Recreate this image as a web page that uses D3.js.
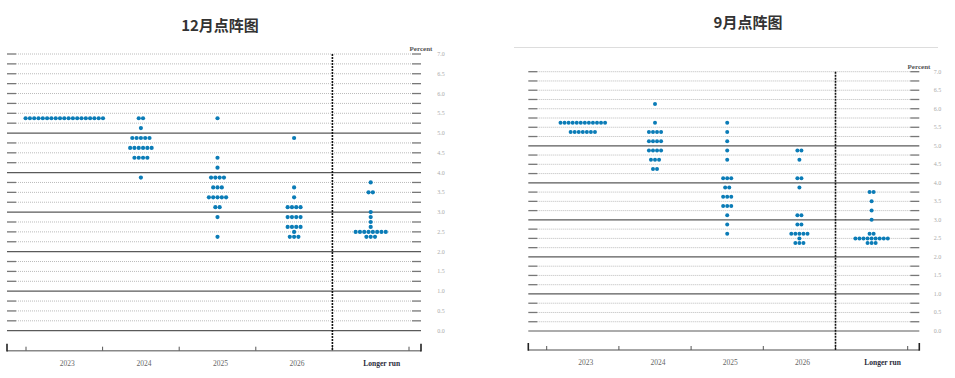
<!DOCTYPE html>
<html>
<head>
<meta charset="utf-8">
<script src="https://cdn.jsdelivr.net/npm/d3@7"></script>
<style>
  body { margin: 0; background: #fff; }
  svg { display: block; }
</style>
</head>
<body>
<div id="chart"></div>
<script>
// 列
const years = ["2023", "2024", "2025", "2026", "Longer run"]
// 刻度
const rateTicks = d3.range(0, 7.01, 0.25)
const labelTicks = ["0.0","0.5","1.0","1.5","2.0","2.5","3.0","3.5","4.0","4.5","5.0","5.5","6.0","6.5","7.0"]
const solidLevels = [0, 1, 2, 3, 4, 5]

// 12月 [利率, 点数]
const dec2023 = [[5.375, 19]]
const dec2024 = [[5.375, 2], [5.125, 1], [4.875, 5], [4.625, 6], [4.375, 4], [3.875, 1]]
const dec2025 = [[5.375, 1], [4.375, 1], [4.125, 1], [3.875, 4], [3.625, 3], [3.375, 5], [3.125, 2], [2.875, 1], [2.375, 1]]
const dec2026 = [[4.875, 1], [3.625, 1], [3.375, 1], [3.125, 4], [2.875, 4], [2.625, 4], [2.5, 1], [2.375, 3]]
const decLong = [[3.75, 1], [3.5, 2], [3.0, 1], [2.875, 1], [2.75, 1], [2.625, 1], [2.5, 8], [2.375, 3]]

// 9月
const sep2023 = [[5.625, 12], [5.375, 7]]
const sep2024 = [[6.125, 1], [5.625, 1], [5.375, 4], [5.125, 4], [4.875, 4], [4.625, 3], [4.375, 2]]
const sep2025 = [[5.625, 1], [5.375, 1], [5.125, 1], [4.875, 1], [4.625, 1], [4.125, 3], [3.875, 2], [3.625, 3], [3.375, 3], [3.125, 1], [2.875, 1], [2.625, 1]]
const sep2026 = [[4.875, 2], [4.625, 1], [4.125, 2], [3.875, 1], [3.125, 2], [2.875, 2], [2.625, 5], [2.5, 1], [2.375, 3]]
const sepLong = [[3.75, 2], [3.5, 1], [3.25, 1], [3.0, 1], [2.625, 2], [2.5, 9], [2.375, 3]]

let svg = d3.select("#chart")
    .append("svg")
    .attr("width", 955)
    .attr("height", 378)

//畫一個面板
function drawPanel(cfg, columns){
    let g = svg.append("g")
    let yScale = d3.scaleLinear().domain([0, 7]).range([cfg.yBottom, cfg.yTop])
    let xScale = d3.scaleLinear().domain([0, 5]).range([cfg.tickStart, cfg.tickEnd])

    //標題
    svg.append("text")
        .attr("x", cfg.titleX)
        .attr("y", cfg.titleY)
        .attr("text-anchor", "middle")
        .style("font-family", "'Noto Sans CJK SC', sans-serif")
        .style("font-weight", "bold")
        .style("font-size", "15px")
        .style("fill", "#333")
        .text(cfg.title)

    //格線
    rateTicks.forEach(v => {
        let y = yScale(v)
        if(solidLevels.includes(v)){
            g.append("line")
                .attr("x1", cfg.x0).attr("x2", cfg.x1)
                .attr("y1", y).attr("y2", y)
                .style("stroke", "#5a5a5a")
                .style("stroke-width", 1.2)
        } else {
            g.append("line")
                .attr("x1", cfg.x0 + 9).attr("x2", cfg.x1 - 9)
                .attr("y1", y).attr("y2", y)
                .style("stroke", "#bbb")
                .style("stroke-width", 1)
                .style("stroke-dasharray", "1,1")
            g.append("line")
                .attr("x1", cfg.x0).attr("x2", cfg.x0 + 9)
                .attr("y1", y).attr("y2", y)
                .style("stroke", "#777")
                .style("stroke-width", 1.3)
            g.append("line")
                .attr("x1", cfg.x1 - 9).attr("x2", cfg.x1)
                .attr("y1", y).attr("y2", y)
                .style("stroke", "#777")
                .style("stroke-width", 1.3)
        }
    })

    //右邊刻度
    g.selectAll(".ylab")
        .data(labelTicks)
        .enter()
        .append("text")
        .attr("x", cfg.labelX)
        .attr("y", d => yScale(+d) + 2)
        .attr("text-anchor", "middle")
        .style("font-family", "'Liberation Serif', serif")
        .style("font-size", "6px")
        .style("fill", "#aaa")
        .text(d => d)

    g.append("text")
        .attr("x", cfg.percentX)
        .attr("y", cfg.percentY)
        .attr("text-anchor", "middle")
        .style("font-family", "'Liberation Serif', serif")
        .style("font-weight", "bold")
        .style("font-size", "7px")
        .style("fill", "#555")
        .text("Percent")

    //底部軸
    g.append("line")
        .attr("x1", cfg.x0).attr("x2", cfg.x1)
        .attr("y1", cfg.axisY).attr("y2", cfg.axisY)
        .style("stroke", "#888")
        .style("stroke-width", 1.5)
    ;[cfg.x0, cfg.x1].forEach(x => {
        g.append("line")
            .attr("x1", x).attr("x2", x)
            .attr("y1", cfg.axisY + 0.7).attr("y2", cfg.axisY - 7)
            .style("stroke", "#222")
            .style("stroke-width", 1.6)
    })
    d3.range(0, 6).forEach(i => {
        g.append("line")
            .attr("x1", xScale(i)).attr("x2", xScale(i))
            .attr("y1", cfg.axisY).attr("y2", cfg.axisY - 4)
            .style("stroke", "#555")
            .style("stroke-width", 1)
    })

    //虛線
    g.append("line")
        .attr("x1", xScale(4)).attr("x2", xScale(4))
        .attr("y1", cfg.yTop).attr("y2", cfg.axisY)
        .style("stroke", "#111")
        .style("stroke-width", 1.6)
        .style("stroke-dasharray", "2,1")

    //年份
    g.selectAll(".xlab")
        .data(years)
        .enter()
        .append("text")
        .attr("x", (d, i) => xScale(i + 0.5) + (i === 4 ? 11 : 3))
        .attr("y", cfg.yearY)
        .attr("text-anchor", "middle")
        .style("font-family", "'Liberation Serif', serif")
        .style("font-size", "7.5px")
        .style("font-weight", (d, i) => i === 4 ? "bold" : "normal")
        .style("fill", (d, i) => i === 4 ? "#2a2a3a" : "#666")
        .text(d => d)

    //點
    let dots = []
    columns.forEach((col, i) => {
        let cx = xScale(i + 0.5)
        col.forEach(([rate, n]) => {
            for(let k = 0; k < n; k++){
                dots.push({ x: cx + (k - (n - 1) / 2) * cfg.step, rate: rate })
            }
        })
    })
    g.selectAll("circle")
        .data(dots)
        .enter()
        .append("circle")
        .attr("cx", d => d.x)
        .attr("cy", d => yScale(d.rate))
        .attr("r", cfg.r)
        .style("fill", "#0b7cb7")
}

drawPanel({
    title: "12月点阵图", titleX: 220, titleY: 31,
    x0: 7, x1: 421, yTop: 54, yBottom: 330.7, axisY: 350.7,
    tickStart: 26, tickEnd: 409, labelX: 441, percentX: 421, percentY: 51,
    yearY: 366, step: 4.3, r: 2.1
}, [dec2023, dec2024, dec2025, dec2026, decLong])

//9月上方分隔線
svg.append("line")
    .attr("x1", 514).attr("x2", 938)
    .attr("y1", 47.5).attr("y2", 47.5)
    .style("stroke", "#ddd")
    .style("stroke-width", 1)

drawPanel({
    title: "9月点阵图", titleX: 748, titleY: 28,
    x0: 528.3, x1: 919.3, yTop: 71.7, yBottom: 331, axisY: 350,
    tickStart: 546.7, tickEnd: 907.7, labelX: 937.5, percentX: 919, percentY: 69,
    yearY: 365, step: 4.05, r: 2
}, [sep2023, sep2024, sep2025, sep2026, sepLong])
</script>
</body>
</html>
